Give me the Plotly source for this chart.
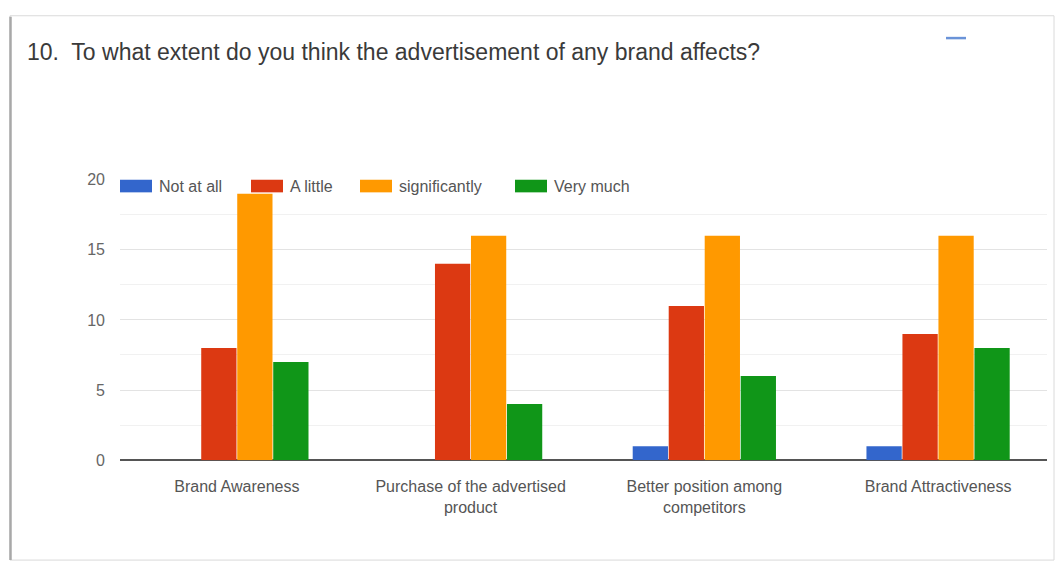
import plotly.graph_objects as go

# Survey question: effect of brand advertising
title_text = "10.  To what extent do you think the advertisement of any brand affects?"
categories = [
    "Brand Awareness",
    "Purchase of the advertised<br>product",
    "Better position among<br>competitors",
    "Brand Attractiveness",
]
series_names = ["Not at all", "A little", "significantly", "Very much"]
not_at_all = [0, 0, 1, 1]
a_little = [8, 14, 11, 9]
significantly = [19, 16, 16, 16]
very_much = [7, 4, 6, 8]
y_ticks = [0, 5, 10, 15, 20]

series_values = [not_at_all, a_little, significantly, very_much]
colors = ["#3366cc", "#dc3912", "#ff9900", "#109618"]

W, H = 1056, 572


def px(x):
    return x / W


def py(y):
    return 1 - y / H


FONT = "Liberation Sans, Arial, sans-serif"

fig = go.Figure()
xpos = list(range(len(categories)))
for name, vals, col in zip(series_names, series_values, colors):
    fig.add_trace(go.Bar(
        x=xpos, y=vals, name=name,
        marker=dict(color=col, line=dict(width=0)),
        showlegend=False,
    ))

shapes = []
annotations = []

# card outline
shapes.append(dict(type="rect", xref="paper", yref="paper",
                   x0=px(10), x1=px(1054), y0=py(569), y1=py(8),
                   line=dict(color="#dadada", width=1), layer="below"))
shapes.append(dict(type="line", xref="paper", yref="paper",
                   x0=px(10.5), x1=px(10.5), y0=py(569), y1=py(9),
                   line=dict(color="#a8a8a8", width=2.5)))
# small accent dash at the card's top right
shapes.append(dict(type="line", xref="paper", yref="paper",
                   x0=px(946), x1=px(966), y0=py(31), y1=py(31),
                   line=dict(color="#6a93d8", width=2.5)))

# legend drawn as swatches + labels
legend_x = [120, 251, 360, 515]
for name, col, lx in zip(series_names, colors, legend_x):
    shapes.append(dict(type="rect", xref="paper", yref="paper",
                       x0=px(lx), x1=px(lx + 32), y0=py(190), y1=py(177),
                       line=dict(width=0), fillcolor=col))
    annotations.append(dict(text=name, xref="paper", yref="paper",
                            x=px(lx + 37), y=py(183.5), xanchor="left", yanchor="middle",
                            showarrow=False,
                            font=dict(family=FONT, size=16, color="#555555")))

# title
annotations.append(dict(text=title_text, xref="paper", yref="paper",
                        x=px(25), y=py(45), xanchor="left", yanchor="middle",
                        showarrow=False,
                        font=dict(family=FONT, size=23, color="#3a3a3a")))

fig.update_layout(
    width=W, height=H,
    margin=dict(l=0, r=0, t=0, b=0),
    paper_bgcolor="white", plot_bgcolor="white",
    barmode="group", bargap=0.384, bargroupgap=0.02,
    shapes=shapes, annotations=annotations,
    showlegend=False,
    xaxis=dict(
        domain=[px(120), px(1047)],
        range=[-0.5, 3.466],
        tickvals=xpos, ticktext=categories,
        showgrid=False, zeroline=False, showline=False,
        ticks="", ticklabelstandoff=15,
        tickfont=dict(family=FONT, size=16, color="#555555"),
    ),
    yaxis=dict(
        domain=[py(466), py(177)],
        range=[0, 20],
        tickvals=y_ticks,
        showgrid=True, gridcolor="#e3e3e3", gridwidth=1,
        minor=dict(dtick=2.5, showgrid=True, gridcolor="#f1f1f1", gridwidth=1),
        zeroline=True, zerolinecolor="#555555", zerolinewidth=1.5,
        showline=False, ticks="", ticklabelstandoff=14,
        tickfont=dict(family=FONT, size=16, color="#666666"),
    ),
    font=dict(family=FONT),
)

fig.write_html("out.html")
